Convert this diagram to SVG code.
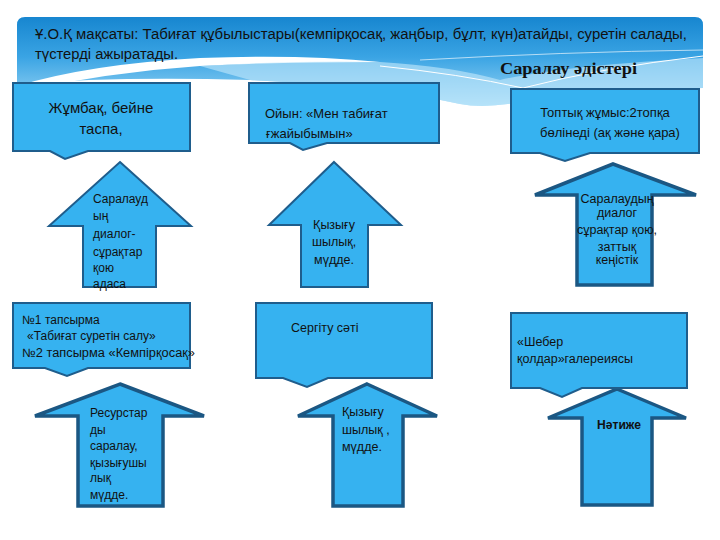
<svg xmlns="http://www.w3.org/2000/svg" width="720" height="540" viewBox="0 0 720 540" font-size="12">
<defs>
<linearGradient id="bg" x1="0" y1="0" x2="0" y2="1">
<stop offset="0" stop-color="#1786d0"/>
<stop offset="0.45" stop-color="#3aa4e4"/>
<stop offset="1" stop-color="#9fd8f5"/>
</linearGradient>
<style>
.box{fill:#36b2f0;stroke:#1f5d8c;stroke-width:2;stroke-linejoin:miter}
.arr{fill:#36b2f0;stroke:#1f5d8c;stroke-width:2}
.arrT{fill:#36b2f0;stroke:#1b5783;stroke-width:3.5}
.t{font-family:"Liberation Sans","DejaVu Sans",sans-serif;fill:#111}
.c{text-anchor:middle}
</style>
</defs>
<rect width="720" height="540" fill="#fff"/>
<g id="banner">
<path d="M17,84 V25 Q17,17 25,17 H695 Q703,17 703,25 V88 Q600,90 540,98 Q490,110 460,104 Q380,86 250,80 Q120,76 17,84 Z" fill="url(#bg)"/>
<path d="M17,86 Q90,64 200,58 Q300,54 380,62 Q280,62 200,66 Q110,72 17,92 Z" fill="#fff"/>
<path d="M200,66 Q300,60 380,62 Q450,66 500,80 Q560,66 703,58 V88 Q600,90 540,98 Q490,110 460,104 Q380,86 250,80 Z" fill="#c4e9fb" opacity="0.6"/>
<path d="M380,66 Q460,74 523,88 Q600,68 703,56" fill="none" stroke="#fff" stroke-width="1"/>
<path d="M420,60 Q560,52 703,50" fill="none" stroke="#fff" stroke-width="0.8" opacity="0.8"/>
<text class="t" x="35" y="39" font-size="14" textLength="652" lengthAdjust="spacingAndGlyphs">Ұ.О.Қ мақсаты: Табиғат құбылыстары(кемпірқосақ, жаңбыр, бұлт, күн)атайды, суретін салады,</text>
<text class="t" x="35" y="59" font-size="14" textLength="143" lengthAdjust="spacingAndGlyphs">түстерді  ажыратады.</text>
<text x="500" y="74" font-family="'Liberation Serif',serif" font-weight="bold" font-size="16" fill="#111" textLength="137" lengthAdjust="spacingAndGlyphs">Саралау әдістері</text>
</g>
<g id="connectors">
<path id="a1" class="arr" d="M120,162 L191,226 H156 V287 H83 V226 H49 Z"/>
<path id="a2" class="arr" d="M334,162 L401,225 H368 V287 H301 V225 H269 Z"/>
<path id="a3" class="arrT" d="M613,164 L696,195 H652 V285 H577 V195 H535 Z"/>
<path id="a4" class="arrT" d="M120,384 L204,416 H163 V506 H78 V416 H35 Z"/>
<path id="a5" class="arrT" d="M367,384 L437,416 H403 V506 H333 V416 H298 Z"/>
<path id="a6" class="arrT" d="M617,389 L686,418 H652 V505 H582 V418 H548 Z"/>
</g>
<g id="n1">
<path class="box" d="M13,83 H190 V151 H88 L65,159 L50,151 H13 Z"/>
<text class="t c" x="101" y="113" font-size="15">Жұмбақ, бейне</text>
<text class="t c" x="101" y="134" font-size="15">таспа,</text>
</g>
<g id="n2">
<path class="box" d="M249,83 H439 V143 H327 L303,150 L290,143 H249 Z"/>
<text class="t" x="265" y="118" font-size="13">Ойын: «Мен табиғат</text>
<text class="t" x="266" y="138" font-size="13">ғжайыбымын»</text>
</g>
<g id="n3">
<path class="box" d="M511,89 H699 V153 H590 L565,161 L540,153 H511 Z"/>
<text class="t c" x="605" y="117" font-size="13">Топтық жұмыс:2топқа</text>
<text class="t c" x="610" y="137" font-size="13">бөлінеді (ақ және қара)</text>
</g>
<g id="n4">
<path class="box" d="M13,303 H190 V368 H88 L67,376 L45,368 H13 Z"/>
<text class="t" x="22" y="324">№1 тапсырма</text>
<text class="t" x="27" y="340">«Табиғат суретін салу»</text>
<text class="t" x="22" y="357" textLength="173" lengthAdjust="spacingAndGlyphs">№2 тапсырма «Кемпірқосақ»</text>
</g>
<g id="n5">
<path class="box" d="M256,303 H432 V378 H328 L307,387 L283,378 H256 Z"/>
<text class="t" x="291" y="332" font-size="12.5">Сергіту сәті</text>
</g>
<g id="n6">
<path class="box" d="M511,313 H687 V388 H582 L562,397 L540,388 H511 Z"/>
<text class="t" x="517" y="346" font-size="12.5">«Шебер</text>
<text class="t" x="517" y="363" font-size="12.5">қолдар»галереиясы</text>
</g>
<g id="labels">
<g class="t" font-size="12">
<text x="93" y="203">Саралауд</text>
<text x="93" y="220">ың</text>
<text x="93" y="238">диалог-</text>
<text x="93" y="256">сұрақтар</text>
<text x="93" y="272">қою</text>
<text x="93" y="288">адаса</text>
</g>
<g class="t c" font-size="12.5">
<text x="334" y="229">Қызығу</text>
<text x="334" y="246">шылық,</text>
<text x="334" y="264">мүдде.</text>
</g>
<g class="t c" font-size="12.5">
<text x="617" y="203">Саралаудың</text>
<text x="617" y="217">диалог</text>
<text x="617" y="234">сұрақтар қою,</text>
<text x="617" y="251">заттық</text>
<text x="617" y="264">кеңістік</text>
</g>
<g class="t" font-size="12">
<text x="90" y="417">Ресурстар</text>
<text x="90" y="434">ды</text>
<text x="90" y="450">саралау,</text>
<text x="90" y="467">қызығушы</text>
<text x="90" y="482">лық</text>
<text x="90" y="499">мүдде.</text>
</g>
<g class="t" font-size="12.5">
<text x="342" y="416">Қызығу</text>
<text x="342" y="434">шылық ,</text>
<text x="342" y="451">мүдде.</text>
</g>
<text class="t" x="597" y="429" font-weight="bold" textLength="44" lengthAdjust="spacingAndGlyphs">Нәтиже</text>
</g>
</svg>
